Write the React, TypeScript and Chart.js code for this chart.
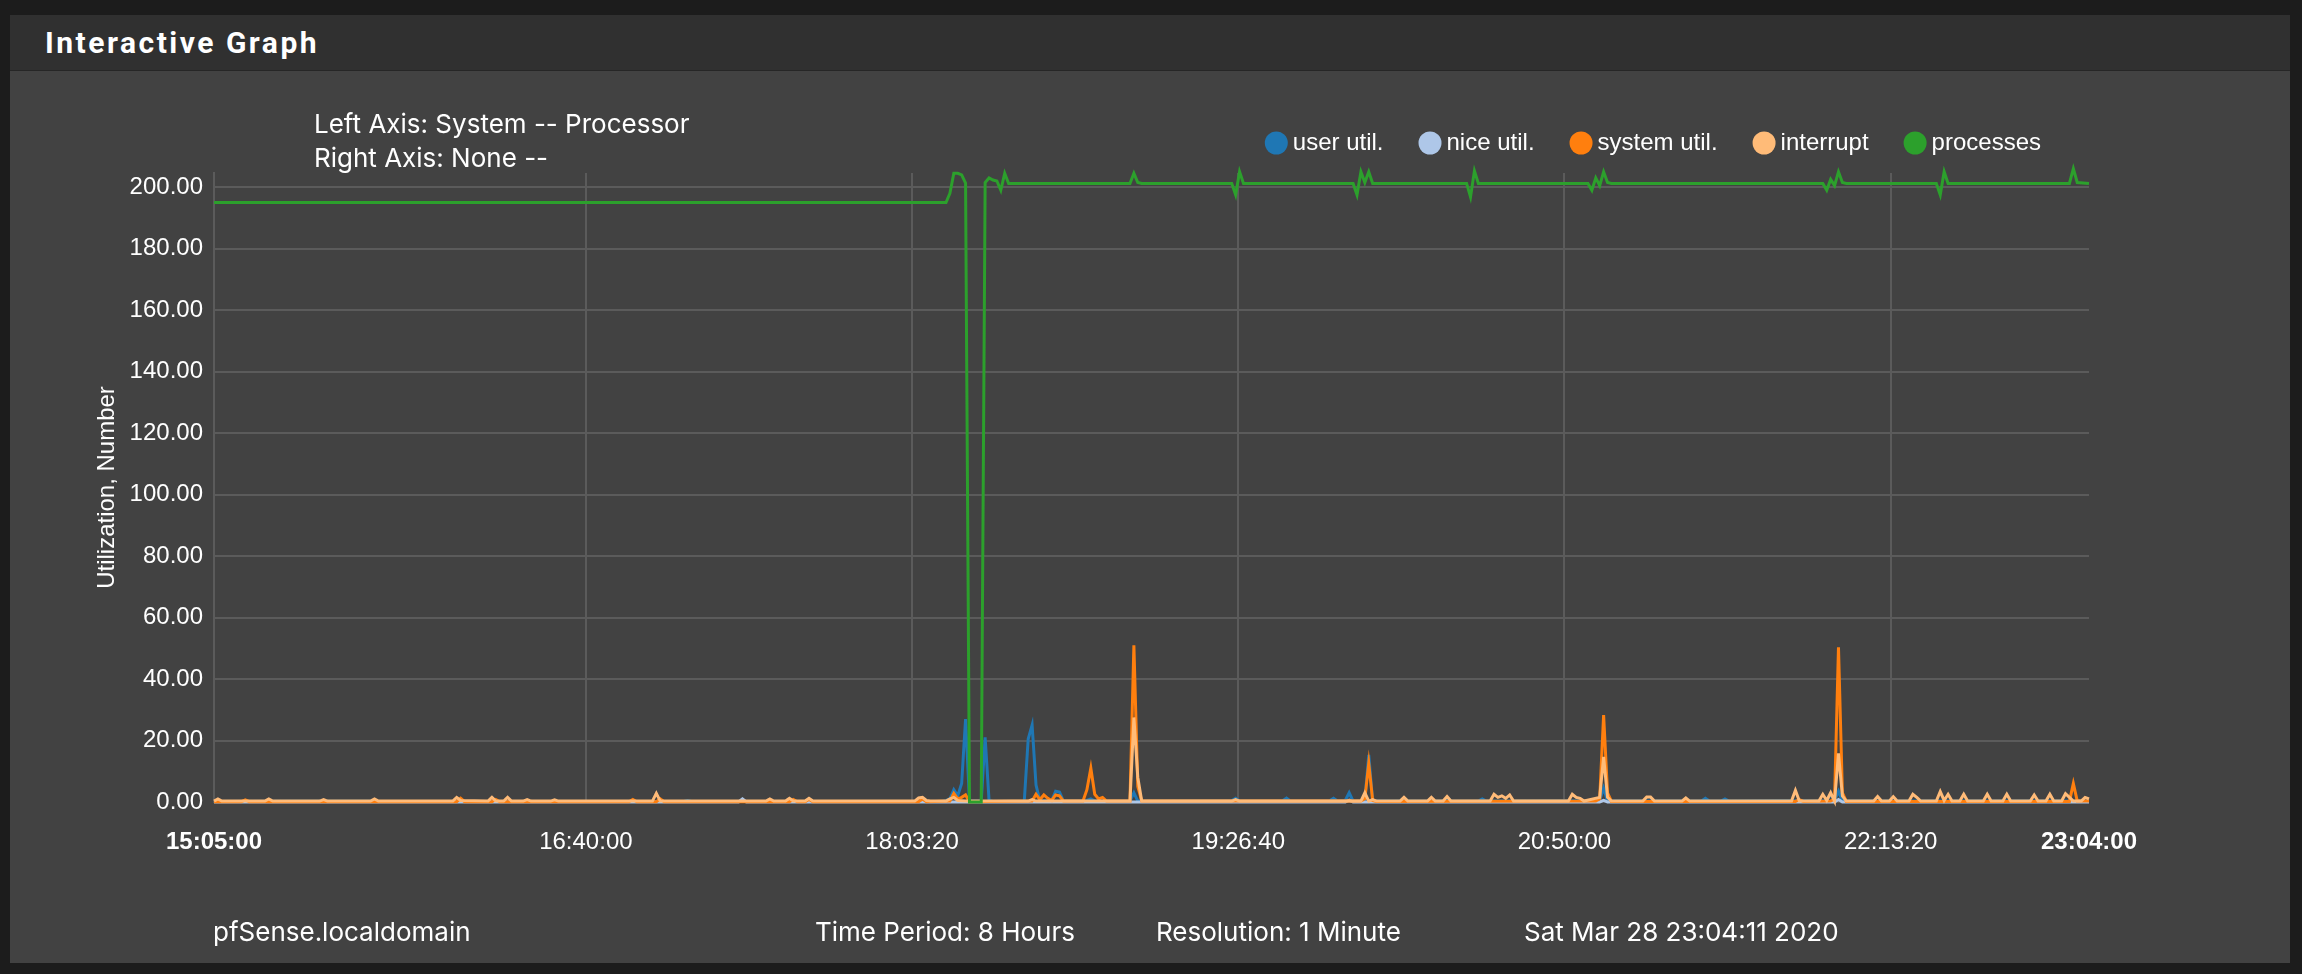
import React, { useEffect, useRef } from 'react';
import { Chart, registerables } from 'chart.js';

Chart.register(...registerables);

// ---- Data (minutes after 15:05:00, value) ----
const xTickMinutes = [0, 95, 178.333, 261.667, 345, 428.333, 479];
const xTickLabels = ['15:05:00', '16:40:00', '18:03:20', '19:26:40', '20:50:00', '22:13:20', '23:04:00'];

const seriesLabels = ['user util.', 'nice util.', 'system util.', 'interrupt', 'processes'];
const seriesColors = ['#1f77b4', '#aec7e8', '#ff7f0e', '#ffbb78', '#2ca02c'];

const axisInfo = ['Left Axis: System -- Processor', 'Right Axis: None --'];
const footerTexts = ['pfSense.localdomain', 'Time Period: 8 Hours', 'Resolution: 1 Minute', 'Sat Mar 28 23:04:11 2020'];
const yAxisTitle = 'Utilization, Number';

const userUtil: [number, number][] = [
  [0, 0.2], [40, 0.3], [41, 0.6], [42, 0.2], [120, 0.2], [121, 0.5], [122, 0.2], [186, 0.2], [187, 0.5],
  [188, 1], [189, 4], [190, 2], [191, 6], [192, 27], [193, 0.3], [196, 0.3], [197, 21], [198, 0.5], [199, 0.2],
  [207, 0.3], [208, 20.5], [209, 25], [210, 5.5], [211, 0.3], [214, 0.5], [215, 3.5], [216, 3.2], [217, 0.3],
  [223, 0.5], [224, 1], [225, 0.3], [234, 0.3], [235, 3], [236, 0.3], [260, 0.5], [261, 1.2], [262, 0.3],
  [273, 0.4], [274, 1.3], [275, 0.3], [285, 0.4], [286, 1.2], [287, 0.3], [289, 0.5], [290, 3], [291, 0.3],
  [294, 0.5], [295, 15.3], [296, 0.3], [303, 0.3], [304, 1.2], [305, 0.3], [314, 0.3], [315, 1.3], [316, 0.4],
  [323, 0.3], [324, 1], [325, 0.3], [354, 0.5], [355, 4.5], [356, 0.3], [380, 0.3], [381, 1.2], [382, 0.3],
  [385, 0.3], [386, 1], [387, 0.3], [412, 0.5], [413, 2.5], [414, 0.5], [415, 3.5], [416, 0.3], [479, 0.3],
];

const niceUtil: [number, number][] = [
  [0, 0], [134, 0], [135, 1], [136, 0], [289, 0], [290, 0.6], [291, 0], [354, 0], [355, 0.5], [356, 0],
  [414, 0], [415, 0.8], [416, 0], [479, 0],
];

const systemUtil: [number, number][] = [
  [0, 0.1], [7, 0.1], [8, 0.7], [9, 0.1], [62, 0.1], [63, 1.2], [64, 0.1], [71, 0.1], [72, 0.8], [73, 0.1],
  [106, 0.1], [107, 0.8], [108, 0.1], [113, 0.1], [114, 1], [115, 0.1], [147, 0.1], [148, 0.8], [149, 0.1],
  [151, 0.1], [152, 0.8], [153, 0.1], [180, 0.1], [181, 1], [182, 0.1], [188, 0.3], [189, 2.8], [190, 1],
  [191, 1.5], [192, 2.3], [193, 0.1], [209, 0.3], [210, 2.5], [211, 0.8], [212, 2.3], [213, 1.2], [214, 0.5],
  [215, 2.3], [216, 2], [217, 0.3], [222, 0.3], [223, 4], [224, 11], [225, 2.5], [226, 1], [227, 1.5],
  [228, 0.3], [234, 0.3], [235, 51], [236, 5], [237, 0.3], [293, 0.3], [294, 1], [295, 12.6], [296, 0.5],
  [297, 0.2], [353, 0.3], [354, 1], [355, 28.3], [356, 3], [357, 0.2], [404, 0.2], [405, 0.8], [406, 0.2],
  [413, 0.3], [414, 1], [415, 50.3], [416, 3], [417, 0.2], [474, 0.2], [475, 6], [476, 0.3], [479, 0.3],
];

const interrupt: [number, number][] = [
  [0, 0.3], [1, 1], [2, 0.3], [13, 0.3], [14, 1], [15, 0.3], [27, 0.3], [28, 0.8], [29, 0.3], [40, 0.3],
  [41, 1], [42, 0.3], [61, 0.3], [62, 1.5], [63, 0.5], [70, 0.3], [71, 1.5], [72, 0.3], [74, 0.3], [75, 1.5],
  [76, 0.3], [79, 0.3], [80, 0.8], [81, 0.3], [86, 0.3], [87, 0.7], [88, 0.3], [112, 0.3], [113, 2.8],
  [114, 0.3], [141, 0.3], [142, 1], [143, 0.3], [146, 0.3], [147, 1.2], [148, 0.3], [151, 0.3], [152, 1.2],
  [153, 0.3], [179, 0.3], [180, 1.3], [181, 1.5], [182, 0.5], [183, 0.3], [187, 0.3], [188, 1], [189, 1.5],
  [190, 0.5], [192, 0.3], [208, 0.3], [209, 0.8], [210, 0.3], [234, 0.3], [235, 27.5], [236, 8], [237, 0.3],
  [260, 0.3], [261, 0.8], [262, 0.3], [293, 0.3], [294, 3], [295, 0.3], [296, 0.8], [297, 0.3], [303, 0.3],
  [304, 1.5], [305, 0.3], [310, 0.3], [311, 1.5], [312, 0.3], [314, 0.3], [315, 1.8], [316, 0.3], [326, 0.3],
  [327, 2.5], [328, 1.5], [329, 2], [330, 1.2], [331, 2.3], [332, 0.3], [346, 0.3], [347, 2.5], [348, 1.5],
  [349, 1.2], [350, 0.3], [354, 1.5], [355, 14.7], [356, 1.5], [357, 0.3], [365, 0.3], [366, 1.6], [367, 1.6],
  [368, 0.3], [375, 0.3], [376, 1.3], [377, 0.3], [403, 0.3], [404, 3.8], [405, 0.3], [410, 0.3], [411, 2.5],
  [412, 0.5], [413, 3], [414, 0.3], [415, 15.8], [416, 2], [417, 0.3], [424, 0.3], [425, 1.8], [426, 0.3],
  [428, 0.3], [429, 1.7], [430, 0.3], [433, 0.3], [434, 2.5], [435, 1.5], [436, 0.3], [440, 0.3], [441, 3.4],
  [442, 0.5], [443, 2.5], [444, 0.3], [446, 0.3], [447, 2.5], [448, 0.3], [452, 0.3], [453, 2.5], [454, 0.3],
  [457, 0.3], [458, 2.5], [459, 0.3], [464, 0.3], [465, 2.3], [466, 0.3], [468, 0.3], [469, 2.5], [470, 0.3],
  [472, 0.3], [473, 2.7], [474, 1.5], [475, 0.3], [477, 0.3], [478, 1.5], [479, 1],
];

const processes: [number, number][] = [
  [0, 195], [187, 195], [188, 198], [189, 204.5], [190, 204.5], [191, 204], [192, 201.3], [193, 0], [196, 0],
  [197, 201.5], [198, 203], [199, 202.3], [200, 202], [201, 199], [202, 204.5], [203, 201.2], [234, 201.2],
  [235, 204.5], [236, 201.5], [237, 201.2], [260, 201.2], [261, 197.5], [262, 205], [263, 201.2], [291, 201.2],
  [292, 197.5], [293, 205], [294, 201.5], [295, 205], [296, 201.2], [320, 201.2], [321, 196.8], [322, 205.3],
  [323, 201.2], [351, 201.2], [352, 199], [353, 203], [354, 200.5], [355, 205], [356, 201.5], [357, 201.2],
  [411, 201.2], [412, 199], [413, 202.5], [414, 200.5], [415, 205], [416, 201.5], [417, 201.2], [440, 201.2],
  [441, 197.5], [442, 205], [443, 201.2], [474, 201.2], [475, 206], [476, 201.5], [479, 201.2],
];

const seriesData = [userUtil, niceUtil, systemUtil, interrupt, processes];
const seriesOrder = [5, 4, 3, 2, 1];

const TICK_FONT = '"Liberation Sans", Arial, sans-serif';
const PAGE_FONT = 'Inter, Roboto, sans-serif';
const GRID = '#5b5b5b';

const textPlugin = {
  id: 'pfsenseText',
  afterDraw(chart: any) {
    const { ctx, chartArea } = chart;
    ctx.save();
    ctx.fillStyle = '#ffffff';
    // axis info lines
    ctx.font = `26px ${PAGE_FONT}`;
    ctx.textAlign = 'left';
    ctx.textBaseline = 'alphabetic';
    ctx.fillText(axisInfo[0], chartArea.left + 100, 61);
    ctx.fillText(axisInfo[1], chartArea.left + 100, 95);
    // legend (right aligned)
    ctx.font = `24px ${TICK_FONT}`;
    ctx.textBaseline = 'middle';
    const r = 11.5;
    const gapText = 5;
    const gapItem = 35;
    let xr = chartArea.right - 48;
    const cy = 71;
    for (let i = seriesLabels.length - 1; i >= 0; i--) {
      const w = ctx.measureText(seriesLabels[i]).width;
      const tx = xr - w;
      ctx.fillStyle = '#ffffff';
      ctx.fillText(seriesLabels[i], tx, cy);
      const cx = tx - gapText - r;
      ctx.beginPath();
      ctx.arc(cx, cy, r, 0, Math.PI * 2);
      ctx.fillStyle = seriesColors[i];
      ctx.fill();
      xr = cx - r - gapItem;
    }
    // footer
    ctx.fillStyle = '#ffffff';
    ctx.font = `26px ${PAGE_FONT}`;
    const fx = [chartArea.left - 1, chartArea.left + 601, chartArea.left + 942, chartArea.left + 1310];
    footerTexts.forEach((t, i) => ctx.fillText(t, fx[i], 861));
    ctx.restore();
  },
};

export default function App() {
  const ref = useRef<HTMLCanvasElement>(null);
  useEffect(() => {
    document.body.style.margin = '0';
    document.body.style.background = '#1c1c1c';
    const datasets = seriesLabels.map((label, i) => ({
      label,
      data: seriesData[i].map(([x, y]) => ({ x, y })),
      borderColor: seriesColors[i],
      backgroundColor: seriesColors[i],
      borderWidth: 3,
      pointRadius: 0,
      tension: 0,
      fill: false,
      order: seriesOrder[i],
      clip: false as any,
    }));
    const chart = new Chart(ref.current!, {
      type: 'line',
      data: { datasets },
      options: {
        responsive: false,
        animation: false,
        devicePixelRatio: 1,
        parsing: false as any,
        layout: { padding: { left: 0, top: 101, right: 201, bottom: 101 } },
        plugins: { legend: { display: false }, tooltip: { enabled: false }, title: { display: false } },
        scales: {
          x: {
            type: 'linear',
            min: 0,
            max: 479,
            afterBuildTicks: (s: any) => {
              s.ticks = xTickMinutes.map((v) => ({ value: v }));
            },
            afterFit: (s: any) => {
              s.height = 60;
            },
            ticks: {
              autoSkip: false,
              maxRotation: 0,
              padding: 26,
              color: '#ffffff',
              callback: (_v: any, i: number) => xTickLabels[i],
              font: (c: any) => ({
                family: TICK_FONT,
                size: 24,
                weight: c.index === 0 || c.index === xTickLabels.length - 1 ? 'bold' : 'normal',
              }),
            },
            grid: {
              drawTicks: false,
              lineWidth: 2,
              color: (c: any) => (c.index === 0 || c.index === xTickLabels.length - 1 ? 'rgba(0,0,0,0)' : GRID),
            },
            border: { display: false },
          },
          y: {
            min: 0,
            max: 204.6,
            afterFit: (s: any) => {
              s.width = 204;
            },
            ticks: {
              stepSize: 20,
              includeBounds: false,
              padding: 11,
              color: '#ffffff',
              font: { family: TICK_FONT, size: 24 },
              callback: (v: any) => Number(v).toFixed(2),
            },
            grid: { drawTicks: false, lineWidth: 2, color: GRID },
            border: { display: true, color: GRID, width: 2 },
            title: {
              display: true,
              text: yAxisTitle,
              color: '#ffffff',
              font: { family: TICK_FONT, size: 24 },
              padding: { top: 83, bottom: 0 },
            },
          },
        },
      },
      plugins: [textPlugin],
    });
    return () => chart.destroy();
  }, []);

  return (
    <div style={{ position: 'absolute', left: 0, top: 0, width: 2302, height: 974, background: '#1c1c1c', overflow: 'hidden' }}>
      <div style={{ position: 'absolute', left: 10, top: 15, width: 2280, height: 948, background: '#424242' }}>
        <div
          style={{
            position: 'absolute', left: 0, top: 0, width: 2280, height: 56, background: '#303030',
            borderBottom: '1px solid #262626', color: '#ffffff', fontFamily: 'Roboto, sans-serif', fontWeight: 700,
            fontSize: 30, lineHeight: '56px', paddingLeft: 35, boxSizing: 'border-box', letterSpacing: 2.5,
          }}
        >
          Interactive Graph
        </div>
        <canvas ref={ref} width={2280} height={891} style={{ position: 'absolute', left: 0, top: 57, width: 2280, height: 891 }} />
      </div>
    </div>
  );
}
